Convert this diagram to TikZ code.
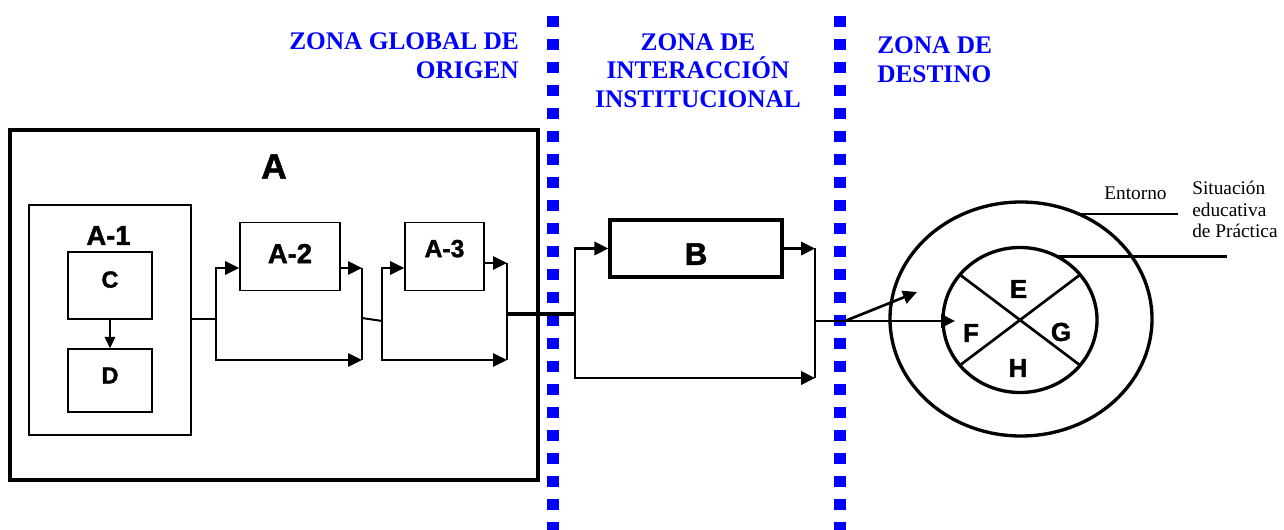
\documentclass[tikz,border=0pt]{standalone}
\usepackage{fontspec}
\setmainfont{Liberation Serif}
\setsansfont{Liberation Sans}
\newfontfamily\heavysans[FakeBold=1.6]{Liberation Sans Bold}
\usetikzlibrary{arrows.meta,shapes.geometric,calc}
\definecolor{zoneblue}{RGB}{0,0,255}
\begin{document}
\begin{tikzpicture}[x=0.75pt,y=-0.75pt,
  thinbox/.style={draw, line width=1.3pt, inner sep=0pt},
  thickbox/.style={draw, line width=2.5pt, inner sep=0pt},
  flow/.style={line width=1.5pt},
  flowarrow/.style={line width=1.5pt, -{Triangle[length=10.5pt,width=10pt]}},
  bflow/.style={line width=2pt},
  bflowarrow/.style={line width=2pt, -{Triangle[length=10.5pt,width=10pt]}},
  zone/.style={font=\fontsize{19}{21.4}\selectfont\bfseries, text=zoneblue, inner sep=0pt},
  dots/.style={draw=zoneblue, line width=8.6pt, dash pattern=on 8.6pt off 8.65pt},
  ring/.style={draw, ellipse, line width=2.5pt, inner sep=0pt, outer sep=0pt},
  quad/.style={font=\heavysans\fontsize{19.5}{19.5}\selectfont, inner sep=0pt},
  note/.style={font=\fontsize{14.5}{16}\selectfont, inner sep=0pt}
]
\useasboundingbox (0,0) rectangle (1284,530);

% zone separators
\draw[dots] (553,16) -- (553,530);
\draw[dots] (840,16) -- (840,530);

% zone headers
\node[zone, align=right, anchor=east] (z1) at (519,56) {ZONA GLOBAL DE\\ORIGEN};
\node[zone, align=center] (z2) at (698,70.5) {ZONA DE\\INTERACCIÓN\\INSTITUCIONAL};
\node[zone, align=left, anchor=west] (z3) at (877,59.5) {ZONA DE\\DESTINO};

% zone A
\node[thickbox, minimum width=396pt, minimum height=262.5pt] (A) at (274,305) {};
\node[font=\heavysans\fontsize{26.5}{26.5}\selectfont, inner sep=0pt] (Alab) at (274,166.5) {A};
\node[thinbox, minimum width=121.5pt, minimum height=172.5pt] (A1) at (110,320) {};
\node[font=\heavysans\fontsize{20.5}{20.5}\selectfont, inner sep=0pt] (A1lab) at (108.5,235.5) {A-1};
\node[thinbox, minimum width=63pt, minimum height=50.25pt, text depth=9pt,
      font=\heavysans\fontsize{17.5}{17.5}\selectfont] (C) at (110,285.5) {C};
\node[thinbox, minimum width=63pt, minimum height=47.25pt, text depth=7.5pt,
      font=\heavysans\fontsize{17.5}{17.5}\selectfont] (D) at (110,380.5) {D};
\node[thinbox, minimum width=75pt, minimum height=51pt, text depth=4.5pt,
      font=\heavysans\fontsize{20.5}{20.5}\selectfont] (A2) at (290,256.5) {A-2};
\node[thinbox, minimum width=59.25pt, minimum height=51pt, text depth=12pt,
      font=\heavysans\fontsize{18.5}{18.5}\selectfont] (A3) at (444.5,256.5) {A-3};

\draw[line width=1.3pt, -{Triangle[length=8.5pt,width=8pt]}] (C) -- (D);

\coordinate (s1) at (216,319);
\coordinate (m1) at (362,360);
\coordinate (m1t) at (362,268);
\coordinate (j2) at (362,318);
\coordinate (s2) at (382,321);
\coordinate (m2) at (507,360);
\coordinate (m2t) at (507,263);
\coordinate (j3) at (507,314);
\coordinate (s3) at (575,314);
\coordinate (m3) at (815,378);
\coordinate (m3t) at (815,248.5);
\coordinate (j4) at (815,321);
\coordinate (o3) at (845,321);
\coordinate (t1) at (917,292);
\coordinate (t2) at (955,321);

\draw[flow] (A1.east |- s1) -- (s1);
\draw[flowarrow] (s1) |- ($(A2.west)+(0,11.5)$);
\draw[flowarrow] (s1) |- (m1);
\draw[flowarrow] ($(A2.east)+(0,11.5)$) -- (m1t);
\draw[flow] (m1t) -- (m1);
\draw[flow] (j2) -- (s2);
\draw[flowarrow] (s2) |- ($(A3.west)+(0,11.5)$);
\draw[flowarrow] (s2) |- (m2);
\draw[flowarrow] ($(A3.east)+(0,6.5)$) -- (m2t);
\draw[flow] (m2t) -- (m2);
\draw[line width=2.3pt] (j3) -- (s3);

% zone B
\node[thickbox, minimum width=129pt, minimum height=42.75pt, text height=24.5pt,
      font=\heavysans\fontsize{23.5}{23.5}\selectfont] (B) at (696,248.5) {B};
\draw[bflowarrow] (s3) |- (B.west);
\draw[bflowarrow] (s3) |- (m3);
\draw[bflowarrow] (B.east) -- (m3t);
\draw[bflow] (m3t) -- (m3);
\draw[bflow] (j4) -- (o3);
\draw[bflowarrow] (o3) -- (t1);
\draw[bflowarrow] (o3) -- (t2);

% destination
\node[ring, minimum width=196.5pt, minimum height=175.5pt] (outer) at (1021,319) {};
\node[ring, minimum width=115.5pt, minimum height=108.75pt] (inner) at (1020,320) {};
\draw[line width=2pt] (inner.143) -- (inner.-37);
\draw[line width=2pt] (inner.37) -- (inner.217);
\node[quad] (E) at (1018.5,289) {E};
\node[quad] (F) at (971,333) {F};
\node[quad] (G) at (1061,332) {G};
\node[quad] (H) at (1018,368) {H};

\coordinate (e1) at (1178,215);
\coordinate (e2) at (1227,255);
\draw[line width=1.6pt] (outer.61) -- (outer.61 -| e1);
\draw[line width=2pt] (inner.60) -- (inner.60 -| e2);
\node[note] (ent) at (1135.5,193) {Entorno};
\node[note, align=left, anchor=west] (sit) at (1192,209.5) {Situación\\educativa\\de Práctica};
\end{tikzpicture}
\end{document}
